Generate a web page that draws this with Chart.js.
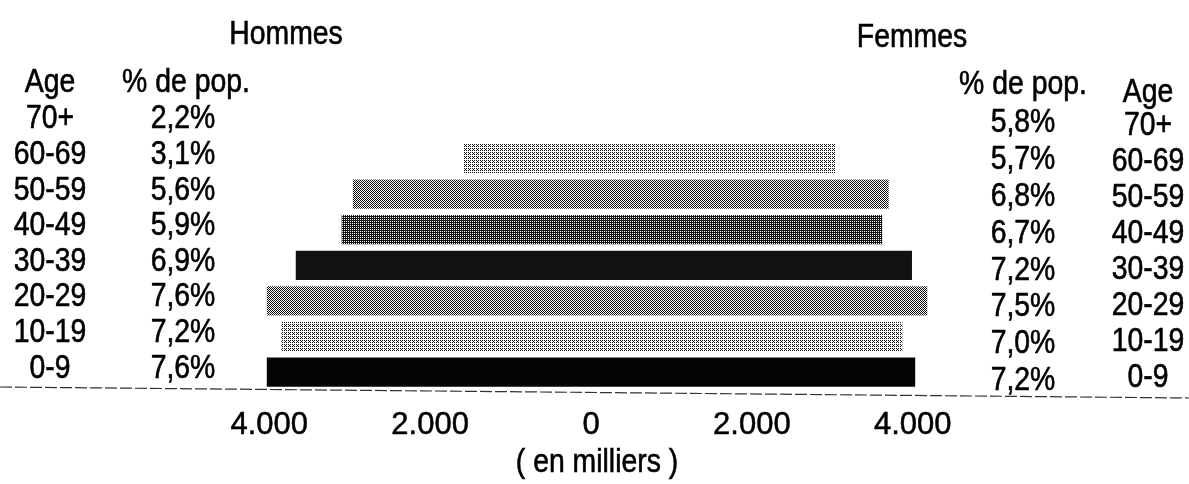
<!DOCTYPE html>
<html>
<head>
<meta charset="utf-8">
<script src="https://cdn.jsdelivr.net/npm/chart.js@4.4.1/dist/chart.umd.min.js"></script>
<style>
  html, body { margin: 0; padding: 0; background: #fff; }
  #wrap { width: 1189px; height: 484px; position: relative; }
</style>
</head>
<body>
<div id="wrap"><canvas id="pyramide"></canvas></div>
<script>
// Données (milliers de personnes)
const ages = ['70+', '60-69', '50-59', '40-49', '30-39', '20-29', '10-19', '0-9'];
const hommes = [null, 1590, 2960, 3100, 3670, 4030, 3850, 4030];
const femmes = [null, 3040, 3700, 3620, 3990, 4180, 3870, 4030];
const hommesPct = ['2,2%', '3,1%', '5,6%', '5,9%', '6,9%', '7,6%', '7,2%', '7,6%'];
const femmesPct = ['5,8%', '5,7%', '6,8%', '6,7%', '7,2%', '7,5%', '7,0%', '7,2%'];
const xTicks = [-4000, -2000, 0, 2000, 4000];
// densité de trame de chaque barre (0 = blanc, 1 = noir)
const trames = [0, 0.3, 0.5, 0.7, 0.95, 0.5, 0.27, 1];

const FONT = "'Liberation Sans', Arial, sans-serif";
const ETROIT = 0.86; // texte condensé façon Arial Narrow

const canvas = document.getElementById('pyramide');
const ctx = canvas.getContext('2d');

/**
 * Trame ordonnée (Bayer 4x4) pour imiter l'impression en niveaux de gris
 */
function makeTrame(level) {
    if (level >= 1) return '#050505';
    const bayer = [[0, 8, 2, 10], [12, 4, 14, 6], [3, 11, 1, 9], [15, 7, 13, 5]];
    const tile = document.createElement('canvas');
    tile.width = 4;
    tile.height = 4;
    const t = tile.getContext('2d');
    t.fillStyle = '#fff';
    t.fillRect(0, 0, 4, 4);
    t.fillStyle = '#111';
    for (let y = 0; y < 4; y++) {
        for (let x = 0; x < 4; x++) {
            if (bayer[y][x] < level * 16) t.fillRect(x, y, 1, 1);
        }
    }
    return ctx.createPattern(tile, 'repeat');
}

function formatMilliers(v) {
    return String(Math.abs(v)).replace(/\B(?=(\d{3})+(?!\d))/g, '.');
}

// texte resserré horizontalement, légèrement épaissi (aspect photocopie)
function texte(c, str, x, y) {
    const w = c.measureText(str).width * ETROIT;
    c.fillText(str, x, y, w);
    c.strokeText(str, x, y, w);
}

// Colonnes de texte, titres et ligne de base
const textesPlugin = {
    id: 'textes',
    afterDraw(chart) {
        const c = chart.ctx;
        const y = chart.scales.y;
        const area = chart.chartArea;
        c.save();
        c.fillStyle = '#000';
        c.strokeStyle = '#000';
        c.lineWidth = 0.6;
        c.textAlign = 'center';
        c.textBaseline = 'alphabetic';
        c.font = '33px ' + FONT;

        texte(c, 'Hommes', 286, 44);
        texte(c, 'Femmes', 912, 47);

        texte(c, 'Age', 50, 92);
        texte(c, '% de pop.', 186, 92);
        texte(c, '% de pop.', 1023, 94);
        texte(c, 'Age', 1148, 102);

        ages.forEach((age, i) => {
            const py = y.getPixelForValue(i);
            texte(c, age, 50, py + 5.5);
            texte(c, hommesPct[i], 183, py + 5.5);
            texte(c, femmesPct[i], 1023, py + 9.5 + i * 1.2);
            texte(c, age, 1148, py + 12.5 + i * 0.4);
        });

        // unité sous l'axe
        texte(c, '( en milliers )', 597, 472);

        // ligne de base sur toute la largeur (légèrement de biais, comme le scan)
        c.strokeStyle = '#333';
        c.lineWidth = 1.2;
        c.setLineDash([12, 3]);
        c.beginPath();
        c.moveTo(0, area.bottom - 3);
        c.lineTo(chart.width, area.bottom + 8);
        c.stroke();
        c.restore();
    }
};

new Chart(canvas, {
    type: 'bar',
    data: {
        labels: ages,
        datasets: [{
            label: 'Population',
            data: ages.map((a, i) => hommes[i] == null ? null : [-hommes[i], femmes[i]]),
            backgroundColor: trames.map(makeTrame),
            borderWidth: 0,
            barPercentage: 0.82,
            categoryPercentage: 1
        }]
    },
    options: {
        indexAxis: 'y',
        responsive: true,
        maintainAspectRatio: false,
        animation: false,
        layout: {
            padding: { left: 229, right: 236, top: 105, bottom: 0 }
        },
        scales: {
            x: {
                min: -4500,
                max: 4500,
                afterBuildTicks: scale => {
                    scale.ticks = xTicks.map(v => ({ value: v }));
                },
                afterFit: scale => {
                    scale.height = 94;
                },
                grid: { display: false, drawTicks: false },
                border: { display: false },
                ticks: {
                    color: '#000',
                    textStrokeColor: '#000',
                    textStrokeWidth: 0.5,
                    padding: 20,
                    maxRotation: 0,
                    font: { family: FONT, size: 31, lineHeight: 1 },
                    callback: v => formatMilliers(v)
                }
            },
            y: {
                display: false,
                grid: { display: false }
            }
        },
        plugins: {
            legend: { display: false },
            tooltip: { enabled: false }
        }
    },
    plugins: [textesPlugin]
});
</script>
</body>
</html>
